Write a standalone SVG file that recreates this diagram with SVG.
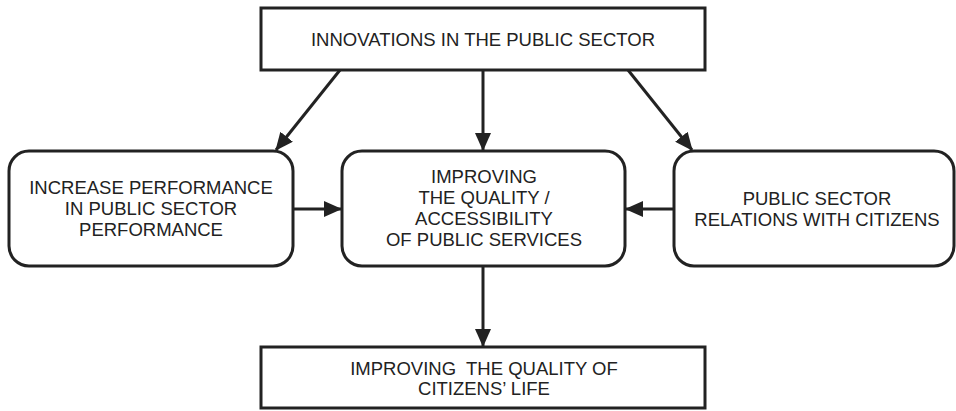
<svg xmlns="http://www.w3.org/2000/svg" width="956" height="411" viewBox="0 0 956 411">
<defs>
<style>
.box{fill:#fff;stroke:#222;stroke-width:3}
.t{font-family:"Liberation Sans",Arial,sans-serif;font-size:18.5px;fill:#222;text-anchor:middle}
.c{stroke:#222;stroke-width:3;fill:none}
</style>
<marker id="ah" markerWidth="10" markerHeight="10" refX="9" refY="5" orient="auto" markerUnits="userSpaceOnUse" viewBox="0 0 10 10">
<path d="M0,0 L10,5 L0,10 Z" fill="#222" transform="scale(1)"/>
</marker>
<marker id="a" markerWidth="18" markerHeight="16" refX="17" refY="8" orient="auto" markerUnits="userSpaceOnUse">
<path d="M0,0 L18,8 L0,16 Z" fill="#222"/>
</marker>
</defs>
<rect width="956" height="411" fill="#fff"/>
<g id="connectors">
<line class="c" x1="340" y1="70" x2="276" y2="150" marker-end="url(#a)"/>
<line class="c" x1="483" y1="70" x2="483" y2="150" marker-end="url(#a)"/>
<line class="c" x1="628" y1="70" x2="692" y2="150" marker-end="url(#a)"/>
<line class="c" x1="293" y1="209" x2="341" y2="209" marker-end="url(#a)"/>
<line class="c" x1="674" y1="209" x2="626" y2="209" marker-end="url(#a)"/>
<line class="c" x1="483" y1="266" x2="483" y2="346" marker-end="url(#a)"/>
</g>
<g id="top">
<rect class="box" x="261" y="8" width="444" height="62"/>
<text class="t" x="483" y="46">INNOVATIONS IN THE PUBLIC SECTOR</text>
</g>
<g id="left">
<rect class="box" x="9" y="151" width="284" height="115" rx="20"/>
<text class="t" x="151" y="194">INCREASE PERFORMANCE</text>
<text class="t" x="151" y="215">IN PUBLIC SECTOR</text>
<text class="t" x="151" y="236">PERFORMANCE</text>
</g>
<g id="middle">
<rect class="box" x="342" y="151" width="283" height="115" rx="20"/>
<text class="t" x="484" y="183">IMPROVING</text>
<text class="t" x="484" y="204">THE QUALITY /</text>
<text class="t" x="484" y="225">ACCESSIBILITY</text>
<text class="t" x="484" y="246">OF PUBLIC SERVICES</text>
</g>
<g id="right">
<rect class="box" x="674" y="151" width="280" height="115" rx="20"/>
<text class="t" x="817" y="205">PUBLIC SECTOR</text>
<text class="t" x="817" y="226">RELATIONS WITH CITIZENS</text>
</g>
<g id="bottom">
<rect class="box" x="261" y="347" width="444" height="61"/>
<text class="t" x="484" y="375" xml:space="preserve">IMPROVING  THE QUALITY OF</text>
<text class="t" x="484" y="395">CITIZENS’ LIFE</text>
</g>
</svg>
